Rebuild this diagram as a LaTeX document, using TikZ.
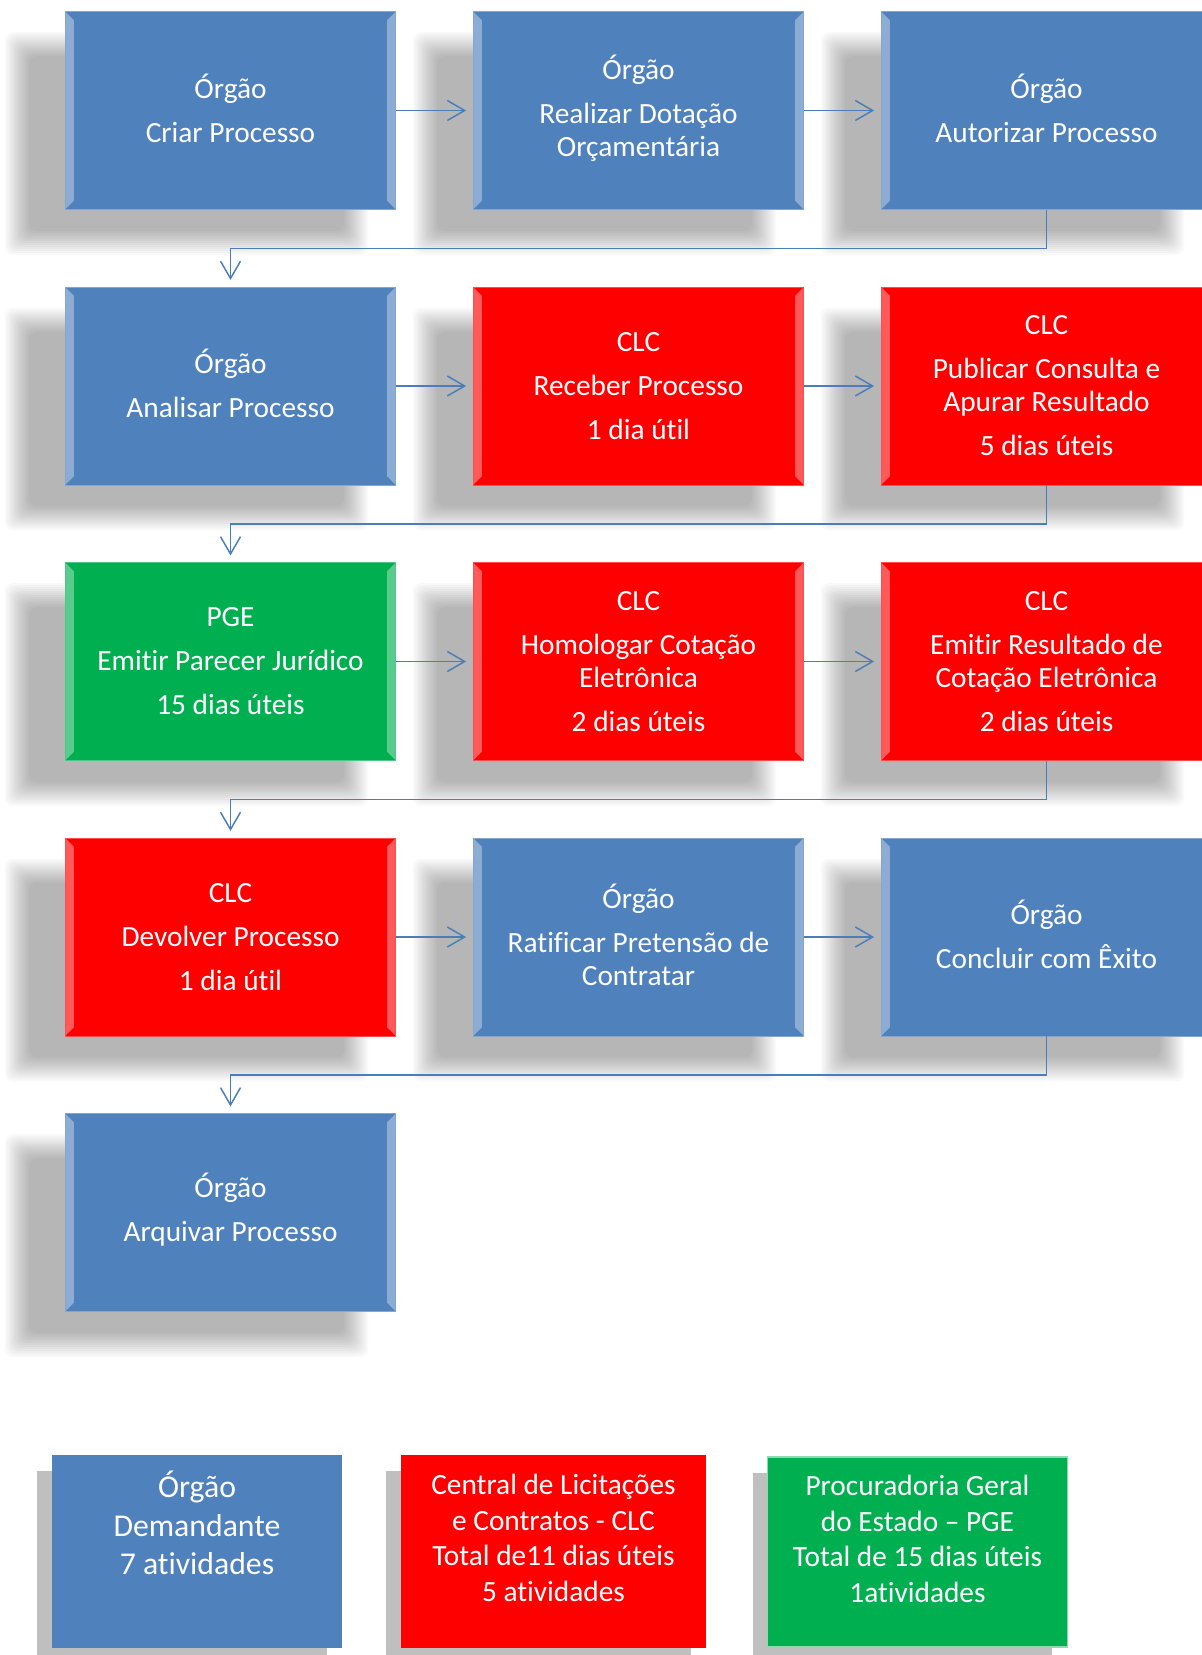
\documentclass[tikz,border=0pt]{standalone}
\usepackage{fontspec}
\setmainfont{Carlito}[Ligatures={NoCommon,NoContextual}]
\usetikzlibrary{arrows.meta,shadows}
\pgfdeclarelayer{background}
\pgfsetlayers{background,main}
\definecolor{orgblue}{HTML}{4F81BD}
\definecolor{clcred}{HTML}{FF0000}
\definecolor{pgegreen}{HTML}{00B050}
\definecolor{flowblue}{HTML}{4A7EBB}
\definecolor{legendgray}{HTML}{BFBFBF}
\tikzset{
  stepbox/.style={rectangle, fill=#1, draw=#1!70!white, line width=0.6pt,
    minimum width=248pt, minimum height=148.5pt, inner sep=0pt,
    text=white, align=center, font=\fontsize{22}{24.75}\selectfont,
    path picture={
      \fill[white, opacity=0.35] (path picture bounding box.north west)
        -- (path picture bounding box.south west)
        -- ([shift={(6.5pt,6.5pt)}]path picture bounding box.south west)
        -- ([shift={(6.5pt,-6.5pt)}]path picture bounding box.north west) -- cycle;
      \fill[white, opacity=0.35] (path picture bounding box.north east)
        -- (path picture bounding box.south east)
        -- ([shift={(-6.5pt,6.5pt)}]path picture bounding box.south east)
        -- ([shift={(-6.5pt,-6.5pt)}]path picture bounding box.north east) -- cycle;
    }},
  softshadow/.style={fill=black, opacity=0.023, rounded corners=6pt},
  legendbox/.style={rectangle, fill=#1, minimum height=144.75pt, inner sep=0pt,
    drop shadow={shadow xshift=-11.25pt, shadow yshift=-12pt, fill=legendgray, opacity=1}},
  legendtext/.style={anchor=north, inner sep=0pt, text=white, align=center},
  flow/.style={draw=flowblue, line width=1.1pt, shorten >=5pt,
    -{Straight Barb[length=13pt,width=15pt,line width=1.1pt]}}
}
\newcommand{\gap}{\\[8.25pt]}
\newcommand{\orgao}{\smash{Ó}rgão}
\begin{document}
\begin{tikzpicture}[x=0.75pt,y=-0.75pt]
  \useasboundingbox (0,0) rectangle (1202,1655);
  \clip (0,0) rectangle (1202,1655);

  % process steps
  \node[stepbox=orgblue]  (criar)     at (230.5,110.5)   {\orgao\gap Criar Processo};
  \node[stepbox=orgblue]  (dotacao)   at (638.5,110.5)   {\orgao\gap Realizar Dotação\\Orçamentária};
  \node[stepbox=orgblue]  (autorizar) at (1046.5,110.5)  {\orgao\gap Autorizar Processo};
  \node[stepbox=orgblue]  (analisar)  at (230.5,386)     {\orgao\gap Analisar Processo};
  \node[stepbox=clcred]   (receber)   at (638.5,386)     {CLC\gap Receber Processo\gap 1 dia útil};
  \node[stepbox=clcred]   (publicar)  at (1046.5,386)    {CLC\gap Publicar Consulta e\\Apurar Resultado\gap 5 dias úteis};
  \node[stepbox=pgegreen] (parecer)   at (230.5,661.5)   {PGE\gap Emitir Parecer Jurídico\gap 15 dias úteis};
  \node[stepbox=clcred]   (homologar) at (638.5,661.5)   {CLC\gap Homologar Cotação\\Eletrônica\gap 2 dias úteis};
  \node[stepbox=clcred]   (resultado) at (1046.5,661.5)  {CLC\gap Emitir Resultado de\\Cotação Eletrônica\gap 2 dias úteis};
  \node[stepbox=clcred]   (devolver)  at (230.5,937)     {CLC\gap Devolver Processo\gap 1 dia útil};
  \node[stepbox=orgblue]  (ratificar) at (638.5,937)     {\orgao\gap Ratificar Pretensão de\\Contratar};
  \node[stepbox=orgblue]  (concluir)  at (1046.5,937)    {\orgao\gap Concluir com Êxito};
  \node[stepbox=orgblue]  (arquivar)  at (230.5,1212.5)  {\orgao\gap Arquivar Processo};

  % soft shadows behind the steps
  \begin{pgfonlayer}{background}
    \fill[white] (0,0) rectangle (1202,1655);
    \foreach \n in {criar, dotacao, autorizar, analisar, receber, publicar, parecer,
        homologar, resultado, devolver, ratificar, concluir, arquivar}
      \foreach \d in {12,10,...,-12}
        \fill[softshadow] ([shift={(-48-\d,33-\d)}]\n.north west)
          rectangle ([shift={(-40+\d,33+\d)}]\n.south east);
  \end{pgfonlayer}

  \foreach \from/\to in {criar/dotacao, dotacao/autorizar, analisar/receber, receber/publicar,
      parecer/homologar, homologar/resultado, devolver/ratificar, ratificar/concluir}
    \draw[flow] (\from) -- (\to);
  \foreach \from/\to in {autorizar/analisar, publicar/parecer, resultado/devolver, concluir/arquivar}
    \draw[flow] (\from.south) -- ++(0,38.5) -| (\to.north);

  % legend
  \node[legendbox=orgblue, minimum width=217.5pt] (legorg) at (197,1551.5) {};
  \node[legendbox=clcred, minimum width=228.5pt] (legclc) at (553.5,1551.5) {};
  \node[legendbox=pgegreen, draw=pgegreen!45!white, line width=0.8pt,
    minimum width=224.5pt, minimum height=142.5pt] (legpge) at (917.5,1552) {};
  \node[legendtext, font=\fontsize{23.8}{29}\selectfont] (legorgtext)
    at ([yshift=-12pt]legorg.north) {Órgão\\Demandante\\7 atividades};
  \node[legendtext, font=\fontsize{22}{26.6}\selectfont] (legclctext)
    at ([yshift=-14.5pt]legclc.north) {Central de Licitações\\e Contratos - CLC\\Total de11 dias úteis\\5 atividades};
  \node[legendtext, font=\fontsize{22}{26.6}\selectfont] (legpgetext)
    at ([yshift=-14pt]legpge.north) {Procuradoria Geral\\do Estado – PGE\\Total de 15 dias úteis\\1atividades};
\end{tikzpicture}
\end{document}
